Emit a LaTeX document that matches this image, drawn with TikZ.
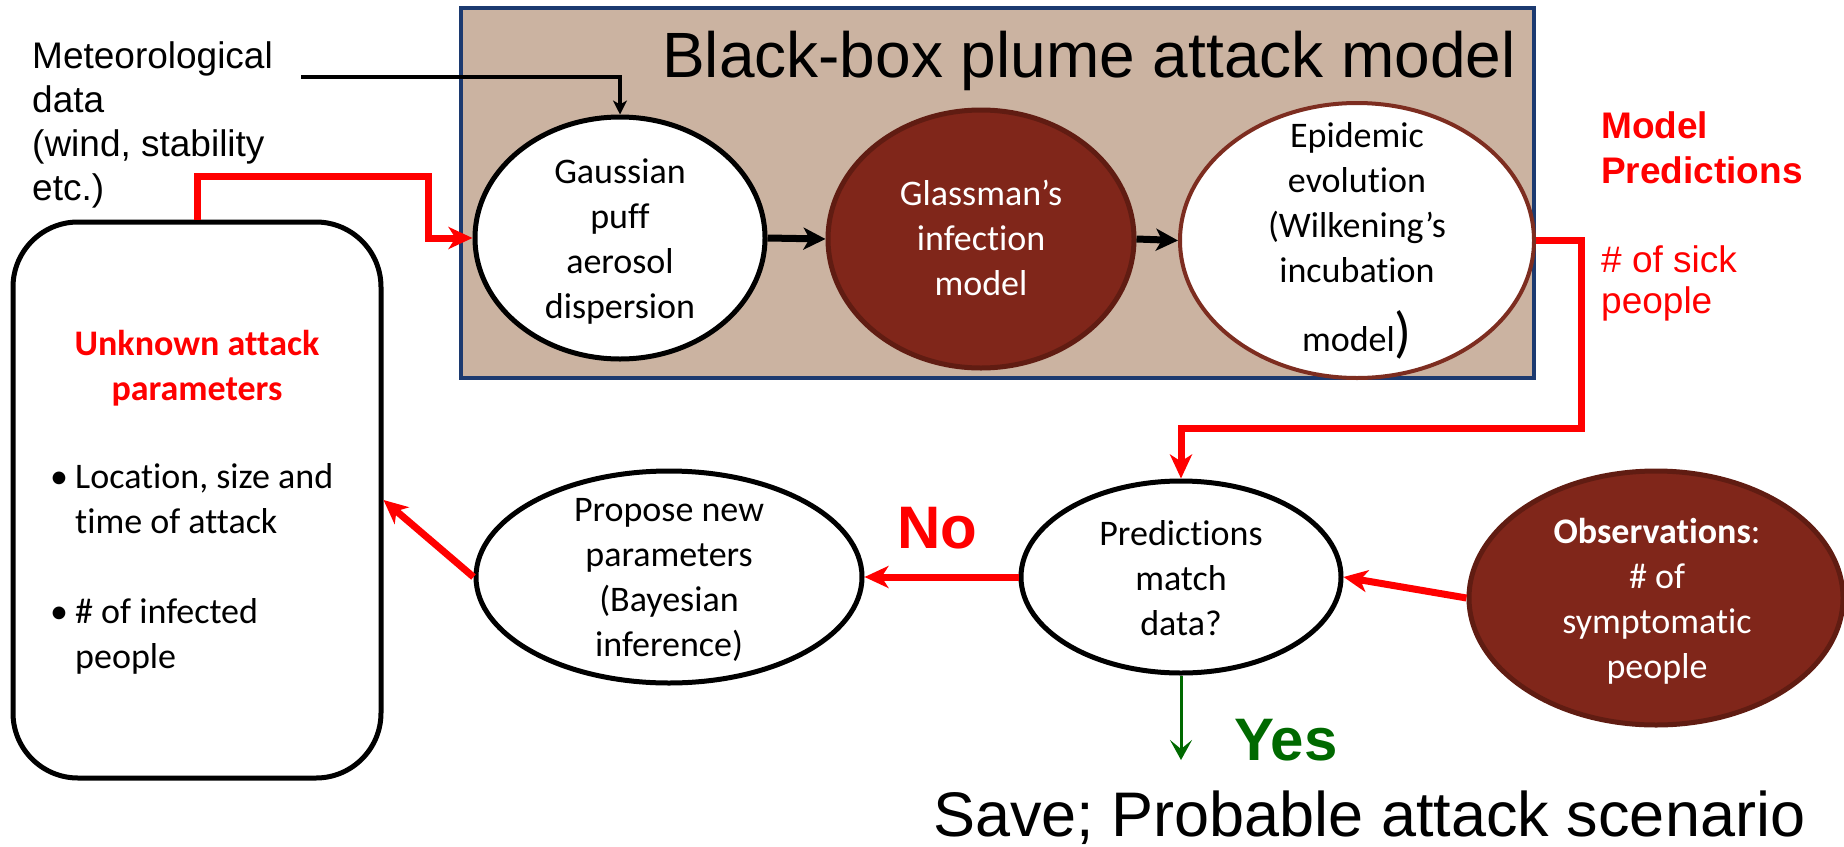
\documentclass[tikz,border=0pt]{standalone}
\usepackage{fontspec}
\setmainfont{Carlito}[Ligatures=NoCommon]
\newfontfamily\arial{Liberation Sans}
\usetikzlibrary{arrows.meta,shapes.geometric}
\definecolor{boxtan}{RGB}{203,179,161}
\definecolor{boxnavy}{RGB}{28,58,112}
\definecolor{darkred}{RGB}{128,38,26}
\definecolor{darkredb}{RGB}{96,28,18}
\definecolor{brownb}{RGB}{125,45,32}
\definecolor{dgreen}{RGB}{0,105,0}
\newcommand{\mlc}[1]{\begin{tabular}[t]{@{}c@{}}#1\end{tabular}}
\newcommand{\mll}[1]{\begin{tabular}[t]{@{}l@{}}#1\end{tabular}}
\newcommand{\fcal}{\fontsize{36}{45}\selectfont}
\newcommand{\bul}{\makebox[22pt][l]{\hspace*{-3pt}\textbullet}}
\tikzset{
  txt/.style={inner sep=0pt, anchor=base},
  ell/.style={ellipse, draw, inner sep=0pt, line width=5pt},
  redarr/.style={draw=red, line width=7pt, -{Stealth[length=24pt,width=22pt,inset=7pt]}},
  blkthin/.style={draw=black, line width=4.5pt, -{Stealth[length=14pt,width=14pt,inset=4pt]}},
  blkthick/.style={draw=black, line width=7pt, -{Stealth[length=22pt,width=22pt,inset=6pt]}},
  grnarr/.style={draw=dgreen, line width=3pt, -{Stealth[length=20pt,width=22pt,inset=9pt]}},
}
\begin{document}
\begin{tikzpicture}[x=1pt,y=-1pt]
\useasboundingbox (0,0) rectangle (1844,846);
% black box
\node[draw=boxnavy, fill=boxtan, line width=4.5pt, minimum width=1073pt, minimum height=370pt, inner sep=0pt] (bb) at (997.5,193) {};
\node[txt, font=\arial\fontsize{64}{64}\selectfont] (title) at (1089,77) {Black-box plume attack model};
% ellipses
\node[ell, fill=white, minimum width=290pt, minimum height=242pt] (gauss) at (620,238) {};
\node[ell, draw=darkredb, fill=darkred, minimum width=306pt, minimum height=258pt] (glass) at (981,239) {};
\node[ell, draw=brownb, line width=4pt, fill=white, minimum width=354pt, minimum height=275pt] (epid) at (1357,240.5) {};
\node[ell, fill=white, minimum width=386pt, minimum height=212pt] (propose) at (669,577) {};
\node[ell, fill=white, minimum width=320pt, minimum height=192pt] (predict) at (1181,577) {};
\node[ell, draw=darkredb, fill=darkred, minimum width=374pt, minimum height=254pt] (obs) at (1656,598) {};
% rounded box
\node[draw, line width=5pt, rounded corners=65pt, minimum width=368pt, minimum height=556pt, inner sep=0pt] (params) at (197,500) {};
% texts
\node[txt, anchor=base west, font=\arial\fontsize{37}{44}\selectfont] (met) at (32,68) {\mll{Meteorological\\data\\(wind, stability\\etc.)}};
\node[txt, font=\fcal] (gausst) at (620,183) {\mlc{Gaussian\\puff\\aerosol\\dispersion}};
\node[txt, font=\fcal, text=white] (glasst) at (981,205) {\mlc{Glassman’s\\infection\\model}};
\node[txt, font=\fcal] (epidt) at (1357,147) {\mlc{Epidemic\\evolution\\(Wilkening’s\\incubation\\[15pt]model{\fontsize{56}{56}\selectfont)}}};
\node[txt, font=\fcal\bfseries, text=red] (unkt) at (197,355) {\mlc{Unknown attack\\parameters}};
\node[txt, anchor=base west, font=\fcal] (bult) at (53,488) {\mll{\bul Location, size and\\\hspace*{22pt}time of attack\\[45pt]\bul\# of infected\\\hspace*{22pt}people}};
\node[txt, font=\fcal] (propt) at (669,521) {\mlc{Propose new\\parameters\\(Bayesian\\inference)}};
\node[txt, font=\fcal] (predt) at (1181,545) {\mlc{Predictions\\match\\data?}};
\node[txt, font=\fcal, text=white] (obst) at (1657,543) {\mlc{\textbf{Observations}:\\\# of\\symptomatic\\people}};
\node[txt, anchor=base west, font=\arial\bfseries\fontsize{37}{45}\selectfont, text=red] (modpred) at (1601,138) {\mll{Model\\Predictions}};
\node[txt, anchor=base west, font=\arial\fontsize{37}{41}\selectfont, text=red] (sick) at (1601,272) {\mll{\# of sick\\people}};
\node[txt, font=\arial\bfseries\fontsize{60}{60}\selectfont, text=red] (no) at (937,548) {No};
\node[txt, anchor=base west, font=\arial\bfseries\fontsize{60}{60}\selectfont, text=dgreen] (yes) at (1234,760) {Yes};
\node[txt, anchor=base west, font=\arial\fontsize{63}{63}\selectfont] (save) at (933,836) {Save; Probable attack scenario};
% coordinates
\coordinate (metstart) at (301,77);
\coordinate (ra) at (428,176);
\coordinate (rb) at (428,238);
\coordinate (rc) at (1581,428);
\coordinate (yend) at (1181,760);
% connectors
\draw[blkthin] (metstart) -| (gauss.north);
\draw[blkthick] (gauss.east) -- (glass.west);
\draw[blkthick] (glass.east) -- (epid.west);
\draw[redarr] (params.north) |- (ra) -- (rb) -- (gauss.west);
\draw[redarr] (epid.east) -| (rc) -| (predict.north);
\draw[redarr] (predict.west) -- (propose.east);
\draw[redarr] (obs.west) -- (predict.east);
\draw[redarr] (propose.west) -- (params.east);
\draw[grnarr] (predict.south) -- (yend);
\end{tikzpicture}
\end{document}
